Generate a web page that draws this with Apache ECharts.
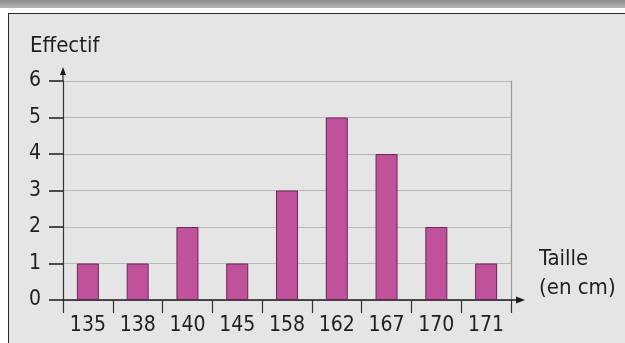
<!DOCTYPE html>
<html>
<head>
<meta charset="utf-8">
<script src="https://cdn.jsdelivr.net/npm/echarts@6/dist/echarts.min.js"></script>
<style>
  html, body { margin: 0; padding: 0; background: #ffffff; }
  #wrap { position: relative; width: 625px; height: 343px; overflow: hidden; background: #ffffff; }
  #band { position: absolute; left: 0; top: 0; width: 625px; height: 8px;
          background: linear-gradient(#8c8c8c, #b4b4b4); }
  #box { position: absolute; left: 8px; top: 13px; width: 700px; height: 400px;
         background: #e5e5e5; border: 1.5px solid #2a2a2a; }
  #chart { position: absolute; left: 0; top: 0; width: 625px; height: 343px; }
</style>
</head>
<body>
<div id="wrap">
  <div id="band"></div>
  <div id="box"></div>
  <div id="chart"></div>
</div>
<script>
// Heights (cm) and how many pupils have each height
const tailles = ['135', '138', '140', '145', '158', '162', '167', '170', '171'];
const effectifs = [1, 1, 2, 1, 3, 5, 4, 2, 1];
const yTicks = [0, 1, 2, 3, 4, 5, 6];

const FONT = '"DejaVu Sans Condensed", "DejaVu Sans", sans-serif';
const INK = '#1e1e1e';

const chart = echarts.init(document.getElementById('chart'), null, { renderer: 'canvas' });

chart.setOption({
  backgroundColor: 'transparent',
  animation: false,
  title: {
    text: 'Effectif',
    left: 25, top: 30,
    textStyle: { fontFamily: FONT, fontSize: 22, fontWeight: 'normal', color: INK }
  },
  grid: { left: 63, right: 114, top: 81, bottom: 43, containLabel: false },
  xAxis: {
    type: 'category',
    data: tailles,
    boundaryGap: true,
    axisLine: { show: true, lineStyle: { color: '#1a1a1a', width: 1.5 } },
    axisTick: { show: true, inside: false, length: 13, alignWithLabel: false,
                lineStyle: { color: '#333333', width: 1.2 } },
    axisLabel: { fontFamily: FONT, fontSize: 21, color: INK, margin: 15 },
    splitLine: { show: false }
  },
  yAxis: [{
    type: 'value',
    min: yTicks[0], max: yTicks[yTicks.length - 1], interval: 1,
    axisLine: { show: true, lineStyle: { color: '#333333', width: 1.2 } },
    axisTick: { show: true, inside: false, length: 14, lineStyle: { color: '#1a1a1a', width: 1.5 } },
    axisLabel: { fontFamily: FONT, fontSize: 21, color: INK, margin: 22 },
    splitLine: { show: true, lineStyle: { color: '#b8b8b8', width: 1 } }
  }, {
    type: 'value',
    position: 'right',
    min: yTicks[0], max: yTicks[yTicks.length - 1], interval: 1,
    axisLine: { show: true, lineStyle: { color: '#9a9a9a', width: 1.2 } },
    axisTick: { show: false },
    axisLabel: { show: false },
    splitLine: { show: false }
  }],
  series: [{
    type: 'bar',
    data: effectifs,
    barWidth: 22,
    itemStyle: { color: '#c0529b', borderColor: '#6a2659', borderWidth: 1 }
  }]
});

// Axis arrows and the unit label on the right, placed from the grid rectangle
const rect = chart.getModel().getComponent('grid').coordinateSystem.getRect();
const x0 = rect.x, y0 = rect.y + rect.height, xR = rect.x + rect.width, yT = rect.y;
chart.setOption({
  graphic: [
    { type: 'line', shape: { x1: xR, y1: y0, x2: xR + 8, y2: y0 },
      style: { stroke: '#1a1a1a', lineWidth: 1.5 }, z: 10 },
    { type: 'polygon', shape: { points: [[xR + 14, y0], [xR + 5, y0 - 3.5], [xR + 5, y0 + 3.5]] },
      style: { fill: '#1a1a1a' }, z: 10 },
    { type: 'line', shape: { x1: x0, y1: yT, x2: x0, y2: yT - 8 },
      style: { stroke: '#333333', lineWidth: 1.2 }, z: 10 },
    { type: 'polygon', shape: { points: [[x0, yT - 14], [x0 - 3, yT - 6], [x0 + 3, yT - 6]] },
      style: { fill: '#1a1a1a' }, z: 10 },
    { type: 'text', left: xR + 28, top: y0 - 55,
      style: { text: 'Taille\n(en cm)', font: '22px ' + FONT, fill: INK, lineHeight: 29 }, z: 10 }
  ]
});
</script>
</body>
</html>
